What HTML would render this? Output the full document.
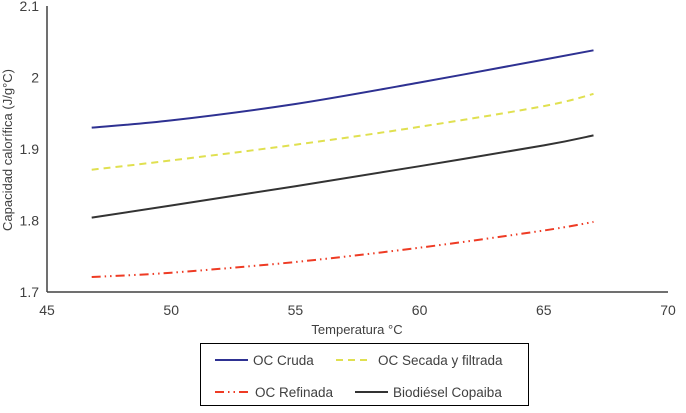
<!DOCTYPE html>
<html><head><meta charset="utf-8"><style>
body{margin:0;background:#fff;font-family:"Liberation Sans",Arial,sans-serif}
svg text{font-family:"Liberation Sans",Arial,sans-serif;fill:#404040}
</style></head><body>
<svg id="chart" width="686" height="408" viewBox="0 0 686 408">
<g id="axes"></g>
<g id="series"></g>
<text x="12" y="150" font-size="13" text-anchor="middle" transform="rotate(-90 12 150)">Capacidad calorífica (J/g°C)</text>
<text x="357" y="334" font-size="13" text-anchor="middle">Temperatura °C</text>
<g>
<rect x="200.5" y="343.5" width="328" height="62" fill="#fff" stroke="#000" stroke-width="1"/>
<g><line x1="215" y1="360" x2="248" y2="360" stroke="#2e3192" stroke-width="2"/><text x="253" y="365" font-size="13.5" fill="#000">OC  Cruda</text></g>
<g><line x1="336" y1="360" x2="369" y2="360" stroke="#e0e050" stroke-width="2" stroke-dasharray="7,5"/><text x="378" y="365" font-size="13.5" fill="#000">OC Secada y filtrada</text></g>
<g><line x1="215" y1="392" x2="248" y2="392" stroke="#ee3b24" stroke-width="2" stroke-dasharray="9,4,1.5,4,1.5,4"/><text x="255" y="397" font-size="13.5" fill="#000">OC Refinada</text></g>
<g><line x1="355" y1="392" x2="388" y2="392" stroke="#333" stroke-width="2"/><text x="393" y="397" font-size="13.5" fill="#000">Biodiésel Copaiba</text></g>
</g>
</svg>
<script>
const temps = [46.8, 50, 55, 60, 65, 67];
const cruda = [1.930, 1.940, 1.963, 1.993, 2.025, 2.038];
const secada = [1.871, 1.884, 1.906, 1.931, 1.960, 1.977];
const biodiesel = [1.804, 1.821, 1.848, 1.876, 1.905, 1.919];
const refinada = [1.721, 1.727, 1.742, 1.762, 1.786, 1.798];
const xTicks = [45, 50, 55, 60, 65, 70];
const yTicks = [1.7, 1.8, 1.9, 2, 2.1];
const NS = "http://www.w3.org/2000/svg";
const X = v => 47 + (v - 45) / 25 * 621;
const Y = v => 292 - (v - 1.7) / 0.4 * 286;
const axes = document.getElementById('axes');
function mk(tag, attrs, parent){const e=document.createElementNS(NS,tag);for(const k in attrs)e.setAttribute(k,attrs[k]);parent.appendChild(e);return e;}
const ya = mk('line',{x1:47,y1:6,x2:47,y2:292,stroke:'#404040','stroke-width':1.5},axes);


const xa = mk('line',{x1:47,y1:292,x2:668,y2:292,stroke:'#404040','stroke-width':1.5},axes);


xTicks.forEach(t=>{const e=mk('text',{x:X(t),y:315,'font-size':14,'text-anchor':'middle'},axes);e.textContent=t;

});
yTicks.forEach(t=>{const e=mk('text',{x:39,y:Y(t)+5,'font-size':14,'text-anchor':'end'},axes);e.textContent=t;

});
const ser = document.getElementById('series');
function draw(vals,color,dash,name){
  const P = temps.map((t,i)=>[X(t),Y(vals[i])]);
  let d = 'M'+P[0][0].toFixed(1)+','+P[0][1].toFixed(1);
  for(let i=0;i<P.length-1;i++){
    const p0=P[Math.max(i-1,0)],p1=P[i],p2=P[i+1],p3=P[Math.min(i+2,P.length-1)];
    const c1=[p1[0]+(p2[0]-p0[0])/6,p1[1]+(p2[1]-p0[1])/6];
    const c2=[p2[0]-(p3[0]-p1[0])/6,p2[1]-(p3[1]-p1[1])/6];
    d+=' C'+c1.map(v=>v.toFixed(1)).join(',')+' '+c2.map(v=>v.toFixed(1)).join(',')+' '+p2.map(v=>v.toFixed(1)).join(',');
  }
  const p = mk('path',{d:d,fill:'none',stroke:color,'stroke-width':2},ser);
  if(dash)p.setAttribute('stroke-dasharray',dash);
  
  
}
draw(cruda,'#2e3192',null,'line-oc-cruda');
draw(secada,'#e0e050','7,5','line-oc-secada');
draw(biodiesel,'#333333',null,'line-biodiesel');
draw(refinada,'#ee3b24','9,4,1.5,4,1.5,4','line-oc-refinada');
</script>
</body></html>
